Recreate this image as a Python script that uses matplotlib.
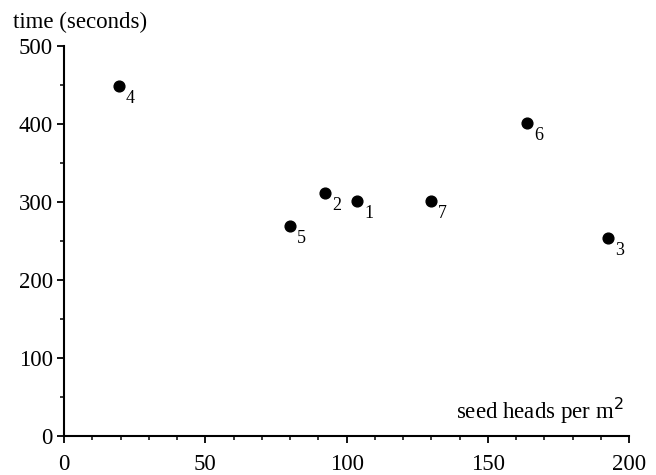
import matplotlib.pyplot as plt
from matplotlib.ticker import MultipleLocator

# site number, seed head density, time
sites = ["1", "2", "3", "4", "5", "6", "7"]
seed_heads = [103.7, 92.4, 192.6, 19.5, 80.0, 163.9, 130.0]
time_s = [301, 311, 254, 449, 269, 401, 301]

plt.rcParams["font.family"] = ["Liberation Serif", "DejaVu Serif"]

fig = plt.figure(figsize=(6.56, 4.75), dpi=100)
ax = fig.add_axes([0.0976, 0.082, 0.8615, 0.821])

ax.scatter(seed_heads, time_s, s=60, color="black", zorder=3, clip_on=False)
for x, y, lab in zip(seed_heads, time_s, sites):
    ax.annotate(lab, (x, y), xytext=(5, -9), textcoords="offset points",
                fontsize=13, ha="left", va="center")

ax.set_xlim(0, 200)
ax.set_ylim(0, 500)
ax.xaxis.set_major_locator(MultipleLocator(50))
ax.xaxis.set_minor_locator(MultipleLocator(10))
ax.yaxis.set_major_locator(MultipleLocator(100))
ax.yaxis.set_minor_locator(MultipleLocator(50))

for side in ["top", "right"]:
    ax.spines[side].set_visible(False)
for side in ["left", "bottom"]:
    ax.spines[side].set_linewidth(1.5)

ax.tick_params(which="major", length=5, width=1.3, labelsize=16.5, direction="out")
ax.tick_params(which="minor", length=3, width=1.1, direction="out")
ax.tick_params(axis="x", pad=8)
ax.tick_params(axis="y", pad=3)

fig.text(0.02, 0.952, "time (seconds)", fontsize=16.5, ha="left", va="center")
ax.text(0.99, 0.025, "seed heads per m$^2$", transform=ax.transAxes,
        fontsize=16.5, ha="right", va="bottom")

fig.savefig("out.png", dpi=100)
